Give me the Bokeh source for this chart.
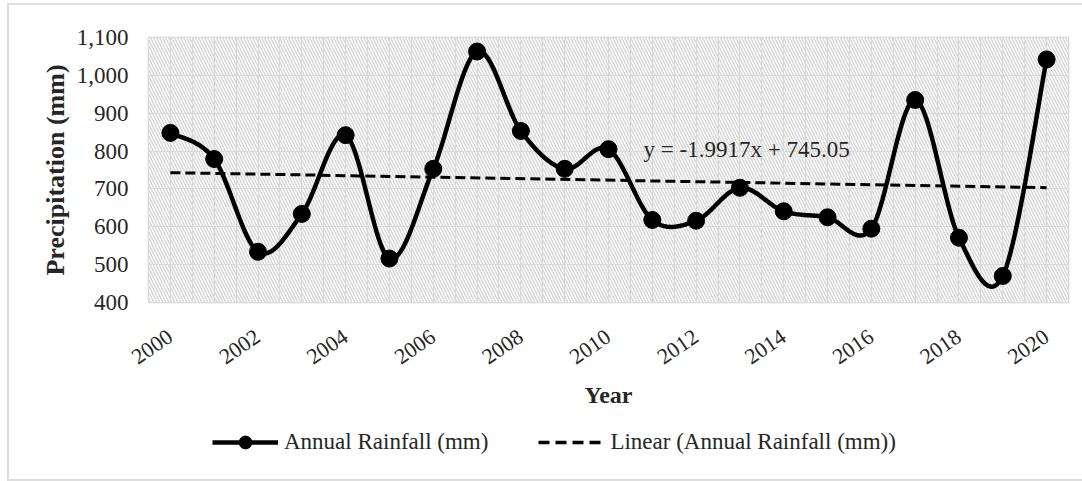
from bokeh.plotting import figure
from bokeh.layouts import column
from bokeh.models import (Legend, LegendItem, BoxAnnotation, Label, Range1d,
                          FixedTicker, SingleIntervalTicker, NumeralTickFormatter)
from bokeh.embed import file_html
from bokeh.resources import INLINE

# ---- data ----
years = list(range(2000, 2021))
rainfall = [848, 779, 534, 634, 842, 516, 753, 1063, 853, 753, 805,
            618, 616, 703, 641, 625, 595, 935, 571, 470, 1042]
y_ticks = [400, 500, 600, 700, 800, 900, 1000, 1100]
x_ticks = [2000, 2002, 2004, 2006, 2008, 2010, 2012, 2014, 2016, 2018, 2020]
trend_slope = -1.9917
trend_intercept = 745.05
equation_text = "y = -1.9917x + 745.05"
series_name = "Annual Rainfall (mm)"
trend_name = "Linear (Annual Rainfall (mm))"

FONT = "Liberation Serif"
TXT = "#262626"
W = 1073


def smooth(xs, ys, steps=24):
    """Excel-like smoothed line (Catmull-Rom as cubic Bezier)."""
    n = len(xs)
    ox, oy = [], []
    for i in range(n - 1):
        x0, y0 = (xs[i - 1], ys[i - 1]) if i > 0 else (xs[i], ys[i])
        x1, y1 = xs[i], ys[i]
        x2, y2 = xs[i + 1], ys[i + 1]
        x3, y3 = (xs[i + 2], ys[i + 2]) if i + 2 < n else (xs[i + 1], ys[i + 1])
        c1x, c1y = x1 + (x2 - x0) / 6, y1 + (y2 - y0) / 6
        c2x, c2y = x2 - (x3 - x1) / 6, y2 - (y3 - y1) / 6
        for k in range(steps + (1 if i == n - 2 else 0)):
            t = k / steps
            a, b, c, d = (1 - t) ** 3, 3 * (1 - t) ** 2 * t, 3 * (1 - t) * t ** 2, t ** 3
            ox.append(a * x1 + b * c1x + c * c2x + d * x2)
            oy.append(a * y1 + b * c1y + c * c2y + d * y2)
    return ox, oy


sx, sy = smooth(years, rainfall)
idx = [1, len(years)]
trend_x = [years[0], years[-1]]
trend_y = [trend_slope * i + trend_intercept for i in idx]

# ---------------- main chart ----------------
p = figure(width=W, height=414,
           x_range=Range1d(1999.5, 2020.5), y_range=Range1d(400, 1100),
           output_backend="svg", toolbar_location=None,
           min_border_left=139, min_border_right=14,
           min_border_top=32, min_border_bottom=117)

p.outline_line_color = "#d0d0d0"
p.outline_line_width = 1.5
p.background_fill_color = "white"

bg = BoxAnnotation(fill_color="white", fill_alpha=1.0, line_color=None,
                   hatch_pattern="\\", hatch_color="#d6d6d6", hatch_alpha=1.0,
                   hatch_scale=6, hatch_weight=1.4, level="image")
p.add_layout(bg)

p.xgrid.ticker = SingleIntervalTicker(interval=0.5)
p.xgrid.grid_line_color = "#d9d9d9"
p.xgrid.grid_line_width = 1.2
p.ygrid.ticker = FixedTicker(ticks=y_ticks)
p.ygrid.grid_line_color = "#d9d9d9"
p.ygrid.grid_line_width = 1.2

p.yaxis.ticker = FixedTicker(ticks=y_ticks)
p.yaxis.formatter = NumeralTickFormatter(format="0,0")
p.xaxis.ticker = FixedTicker(ticks=x_ticks)
for ax in (p.xaxis, p.yaxis):
    ax.axis_line_color = None
    ax.major_tick_line_color = None
    ax.minor_tick_line_color = None
    ax.major_tick_out = 0
    ax.minor_tick_out = 0
    ax.major_tick_in = 0
    ax.minor_tick_in = 0
    ax.major_label_text_font = FONT
    ax.major_label_text_color = TXT
    ax.axis_label_text_font = FONT
    ax.axis_label_text_font_style = "bold"
    ax.axis_label_text_color = TXT

p.yaxis.major_label_text_font_size = "23px"
p.yaxis.axis_label = "Precipitation (mm)"
p.yaxis.axis_label_text_font_size = "26px"
p.yaxis.major_label_standoff = 20
p.yaxis.axis_label_standoff = 4

p.xaxis.major_label_text_font_size = "22px"
p.xaxis.axis_label = "Year"
p.xaxis.axis_label_text_font_size = "24px"
p.xaxis.major_label_orientation = 0.6
p.xaxis.major_label_standoff = 32
p.xaxis.axis_label_standoff = 8

r_line = p.line(sx, sy, line_color="black", line_width=4.5)
r_pts = p.scatter(years, rainfall, marker="circle", size=17,
                  fill_color="black", line_color="black")
r_trend = p.line(trend_x, trend_y, line_color="black", line_width=3,
                 line_dash="10 5")

eq = Label(x=2010.8, y=805, text=equation_text, text_font=FONT,
           text_font_size="23px", text_color=TXT, text_baseline="middle")
p.add_layout(eq)

# ---------------- legend strip (frame is aligned with the chart frame) ----------------
lf = figure(width=W, height=60, x_range=Range1d(0, 1), y_range=Range1d(0, 1),
            x_axis_type=None, y_axis_type=None,
            output_backend="svg", toolbar_location=None,
            min_border_left=0, min_border_right=0, min_border_top=0, min_border_bottom=0)
lf.outline_line_color = None
lf.grid.visible = False
# legend-only renderers: the series lies outside this strip's ranges, so only the legend shows
l_line = lf.line(years, rainfall, line_color="black", line_width=4.5)
l_pts = lf.scatter(years, rainfall, marker="circle", size=17,
                   fill_color="black", line_color="black")
l_trend = lf.line(trend_x, trend_y, line_color="black", line_width=3.5, line_dash="11 6")

legend = Legend(items=[LegendItem(label=series_name, renderers=[l_line, l_pts]),
                       LegendItem(label=trend_name, renderers=[l_trend])],
                orientation="horizontal", location=(64, 21),
                glyph_width=66, glyph_height=32, label_standoff=6, spacing=50,
                padding=0, margin=0, border_line_color=None,
                background_fill_alpha=0,
                label_text_font=FONT, label_text_font_size="23px",
                label_text_color=TXT)
lf.add_layout(legend)

layout = column(p, lf, spacing=0,
                styles={"margin-left": "7px", "margin-top": "3px",
                        "border-left": "2px solid #dedede",
                        "border-top": "2px solid #dedede",
                        "border-bottom": "2px solid #dedede"})

open("out.html", "w").write(file_html(layout, INLINE))
